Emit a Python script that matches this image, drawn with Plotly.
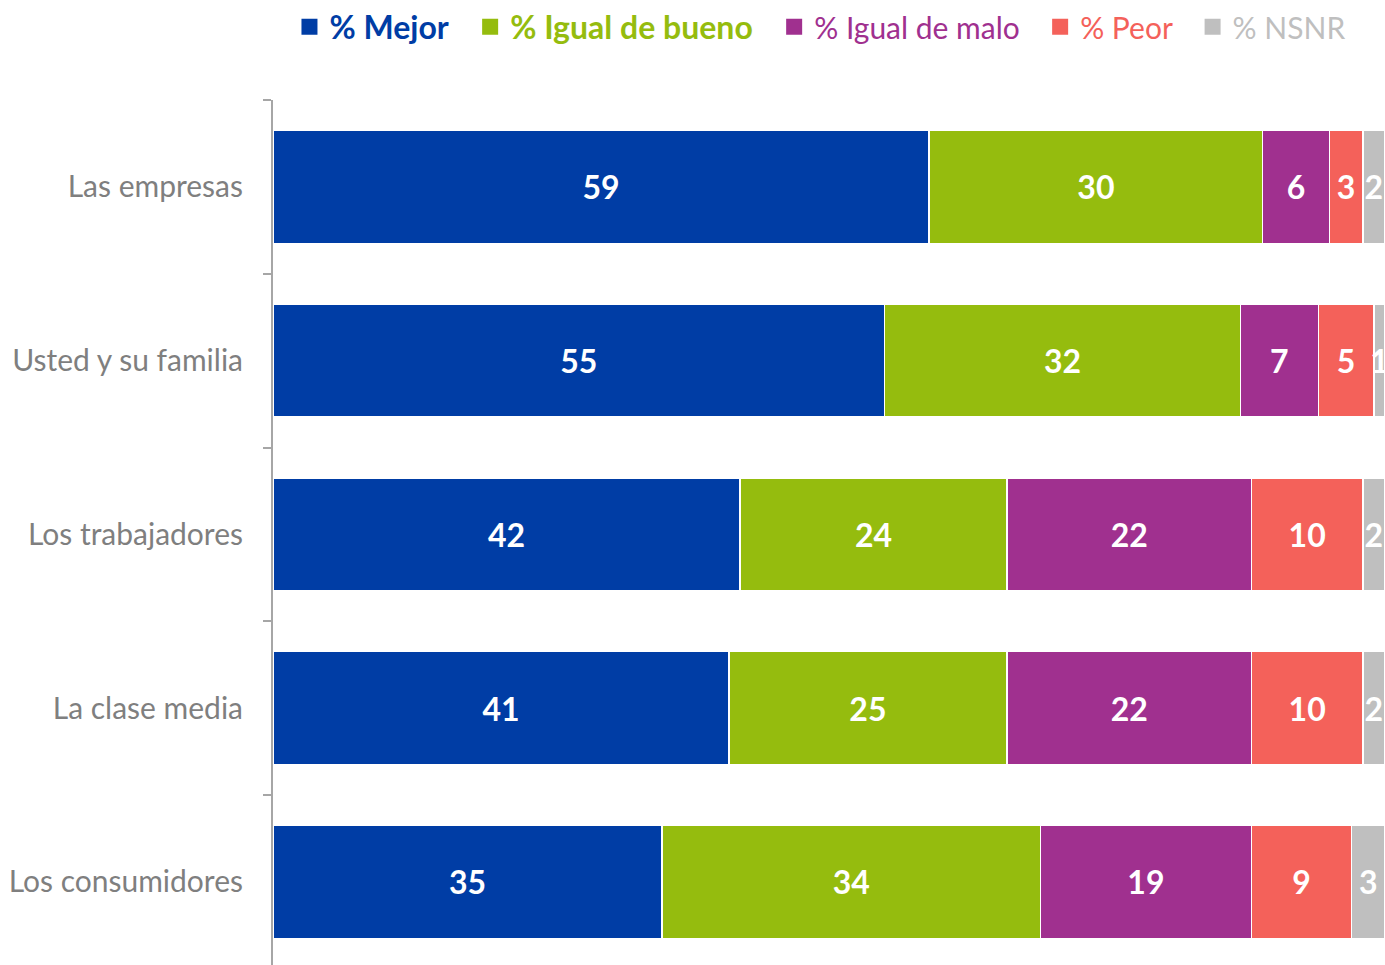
import plotly.graph_objects as go

categories = ["Las empresas", "Usted y su familia", "Los trabajadores", "La clase media", "Los consumidores"]
series_names = ["% Mejor", "% Igual de bueno", "% Igual de malo", "% Peor", "% NSNR"]
mejor = [59, 55, 42, 41, 35]
igual_bueno = [30, 32, 24, 25, 34]
igual_malo = [6, 7, 22, 22, 19]
peor = [3, 5, 10, 10, 9]
nsnr = [2, 1, 2, 2, 3]

values = [mejor, igual_bueno, igual_malo, peor, nsnr]
colors = ["#003DA5", "#95BC0E", "#A0308F", "#F4615A", "#BFBFBF"]
bold = [True, True, False, False, False]

FONT = "Lato, Calibri, sans-serif"

fig = go.Figure()
for name, vals, col in zip(series_names, values, colors):
    fig.add_trace(go.Bar(
        y=categories, x=vals, name=name, orientation="h", showlegend=False,
        marker=dict(color=col, line=dict(color="white", width=1.5)),
        text=[str(v) for v in vals], textposition="inside",
        insidetextanchor="middle", textangle=0, constraintext="none",
        textfont=dict(family=FONT, size=32, color="white", weight="bold"),
        cliponaxis=True, hoverinfo="x+y+name",
    ))

# legend entries (square markers)
for name, col, b in zip(series_names, colors, bold):
    if b:
        label = f"<b><span style='color:{col}'>{name}</span></b>\u00a0\u00a0"
    else:
        label = f"<span style='color:{col};font-size:30px'>{name}\u00a0\u00a0</span>"
    fig.add_trace(go.Scatter(
        x=[None], y=[None], mode="markers", name=label,
        marker=dict(symbol="square", size=16, color=col),
        showlegend=True, hoverinfo="skip",
    ))

fig.update_layout(
    barmode="stack", bargap=0.35,
    width=1385, height=965,
    margin=dict(l=273, r=0, t=100, b=0),
    paper_bgcolor="white", plot_bgcolor="white",
    font=dict(family=FONT),
    legend=dict(orientation="h", xref="container", yref="container",
                x=0.209, y=0.972, xanchor="left", yanchor="middle",
                font=dict(family=FONT, size=32), itemsizing="trace",
                traceorder="normal"),
    xaxis=dict(range=[0, 100], visible=False, fixedrange=True),
    yaxis=dict(categoryorder="array", categoryarray=categories,
               range=[4.478, -0.5], showline=True, linecolor="#A6A6A6", linewidth=2,
               ticks="outside", tickson="boundaries", ticklen=8, tickcolor="#A6A6A6",
               tickwidth=2, ticklabelstandoff=22,
               tickfont=dict(family=FONT, size=30, color="#7F7F7F"),
               showgrid=False, zeroline=False, fixedrange=True),
)

fig.write_html("out.html", config={"displayModeBar": False},
               post_script="document.body.style.margin='0px';document.body.style.overflow='hidden';")
